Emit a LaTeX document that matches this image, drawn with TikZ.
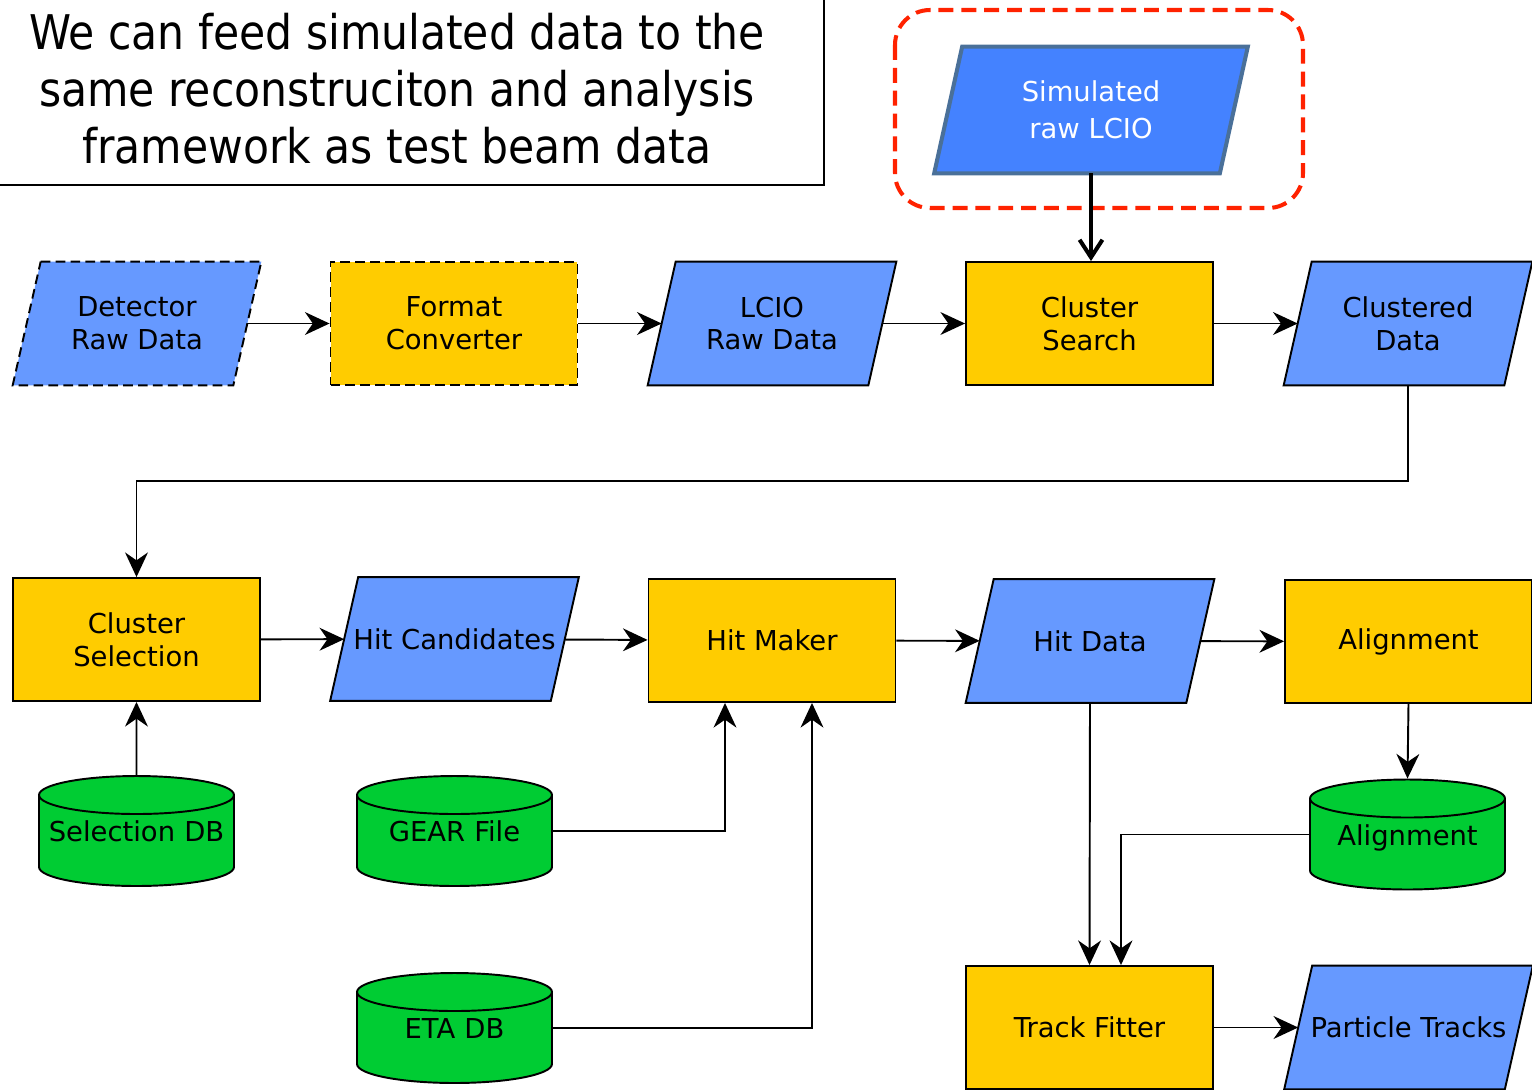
\documentclass[tikz,border=0pt]{standalone}
\usepackage{fontspec}
\setmainfont{DejaVu Sans}
\newfontfamily\headfont[FakeStretch=0.89]{DejaVu Sans}
\usetikzlibrary{shapes.geometric,arrows.meta}
\definecolor{datablue}{HTML}{6699FF}
\definecolor{simblue}{HTML}{4482FF}
\definecolor{simedge}{HTML}{4A7099}
\definecolor{procyellow}{HTML}{FFCC00}
\definecolor{dbgreen}{HTML}{00CC33}
\definecolor{simred}{HTML}{FF2200}
\pgfdeclarelayer{background}
\pgfsetlayers{background,main}
\tikzset{
	boxtext/.style={font=\fontsize{15.6}{18.7}\selectfont, align=center},
	procnode/.style={boxtext, rectangle, draw, line width=1.1pt, fill=procyellow, minimum width=4.94cm, minimum height=2.46cm, inner sep=0pt},
	datanode/.style={boxtext, rectangle, minimum width=4.4cm, minimum height=2.46cm, inner sep=0pt}, % slanted outline comes from \slantbox
	dbnode/.style={boxtext, cylinder, shape border rotate=90, aspect=0.2, draw, line width=1.1pt, fill=dbgreen, minimum width=3.9cm, minimum height=2.2cm, inner sep=0pt, text width=3.8cm, text depth=0.38cm, anchor=shape center},
	planned/.style={dash pattern=on 5.5pt off 3pt}, % stages not yet in place
	flow/.style={->, line width=1.1pt},
}
% parallelogram behind a data node: \slantbox[options]{node}
\newcommand{\slantbox}[2][]{%
	\begin{pgfonlayer}{background}
		\draw[line width=1.1pt, fill=datablue, #1] ([xshift=0.28cm]#2.north west) -- ([xshift=0.28cm]#2.north east) -- ([xshift=-0.28cm]#2.south east) -- ([xshift=-0.28cm]#2.south west) -- cycle;
	\end{pgfonlayer}}

\begin{document}
\begin{tikzpicture}[x=0.02cm, y=-0.02cm, >={Stealth[length=14pt,width=13pt,inset=4.5pt]}]
	\useasboundingbox (0,0) rectangle (1532,1089);
	
	% note box at the top left
	\draw[line width=1.1pt] (-10,185) -- (824,185) -- (824,-10);
	\node[align=center, font=\headfont\fontsize{27.2}{32.4}\selectfont] (note) at (397,89) {We can feed simulated data to the\\same reconstruciton and analysis\\framework as test beam data};
	
	% simulated input, framed in red
	\draw[simred, line width=2.3pt, dash pattern=on 8.5pt off 4.5pt, rounded corners=0.7cm] (895,10) rectangle (1303,208);
	\node[datanode, text=white, font=\fontsize{15.6}{21}\selectfont, minimum width=5.7cm, minimum height=2.52cm] (sim) at (1091,110) {Simulated\\raw LCIO};
	\slantbox[fill=simblue, draw=simedge, line width=2.3pt]{sim}
	
	% first row
	\node[datanode] (det) at (137,323.5) {Detector\\Raw Data};
	\node[procnode, planned] (conv) at (454,323.5) {Format\\Converter};
	\node[datanode] (lcio) at (772,323.5) {LCIO\\Raw Data};
	\node[procnode] (search) at (1089.5,323.5) {Cluster\\Search};
	\node[datanode] (clustered) at (1408,323.5) {Clustered\\Data};
	\slantbox[planned]{det}
	\slantbox{lcio}
	\slantbox{clustered}
	
	% second row
	\node[procnode] (select) at (136.5,639.5) {Cluster\\Selection};
	\node[datanode] (cand) at (454.5,639) {Hit Candidates};
	\node[procnode] (hitmaker) at (772,640.5) {Hit Maker};
	\node[datanode] (hitdata) at (1090,641) {Hit Data};
	\node[procnode] (align) at (1408.5,641.5) {Alignment};
	\slantbox{cand}
	\slantbox{hitdata}
	
	% databases
	\node[dbnode] (seldb) at (136.5,831) {Selection DB};
	\node[dbnode] (gear) at (454.5,831) {GEAR File};
	\node[dbnode] (etadb) at (454.5,1028) {ETA DB};
	\node[dbnode] (aligndb) at (1407.5,834.5) {Alignment};
	
	% last row
	\node[procnode] (fitter) at (1089.5,1027.5) {Track Fitter};
	\node[datanode] (tracks) at (1408.5,1027.5) {Particle Tracks};
	\slantbox{tracks}
	
	% connectors
	\draw[-{Straight Barb[length=10pt,width=13pt]}, line width=2.3pt] (sim.south) -- (sim.south |- search.north);
	\draw[flow] (det) -- (conv);
	\draw[flow] (conv) -- (lcio);
	\draw[flow] (lcio) -- (search);
	\draw[flow] (search) -- (clustered);
	\draw[flow] (clustered.south) -- ++(0,96) -| (select.north);
	\draw[flow] (select) -- (cand);
	\draw[flow] (cand) -- (hitmaker);
	\draw[flow] (hitmaker) -- (hitdata);
	\draw[flow] (hitdata) -- (align);
	\draw[flow] (seldb.north) -- (select.south);
	\draw[flow] (gear.shape center -| gear.east) -| ([xshift=-0.94cm]hitmaker.south);
	\draw[flow] (etadb.shape center -| etadb.east) -| ([xshift=0.8cm]hitmaker.south);
	\draw[flow] (align.south) -- (aligndb.north);
	\draw[flow] (hitdata.south) -- (fitter.north);
	\draw[flow] (aligndb.shape center -| aligndb.west) -| ([xshift=0.63cm]fitter.north);
	\draw[flow] (fitter) -- (tracks);
	
\end{tikzpicture}
\end{document}
